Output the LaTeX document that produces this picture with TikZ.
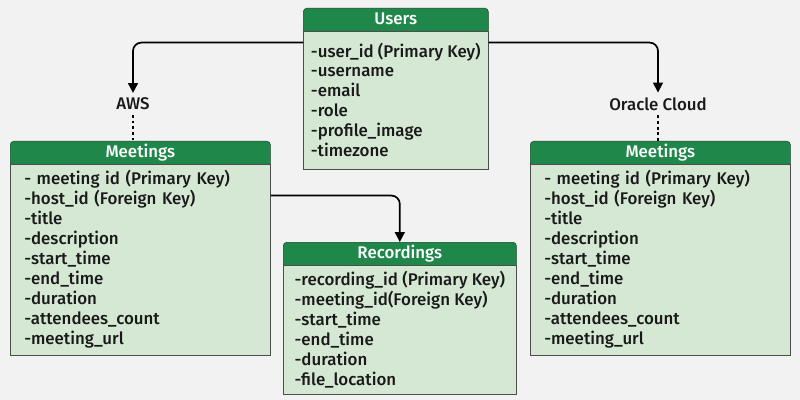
\documentclass[tikz,border=0pt]{standalone}
\usepackage{fontspec}
\setmainfont{Fira Sans Medium}
\usepackage{xcolor}
\usetikzlibrary{arrows.meta,positioning}
\definecolor{hdgreen}{HTML}{1F874A}
\definecolor{rowgreen}{HTML}{D5E8D4}
\definecolor{edgegray}{HTML}{4D4D4D}
\definecolor{bggray}{HTML}{F2F2F2}

\begin{document}
\begin{tikzpicture}[x=0.025cm, y=-0.025cm,
    every node/.style={font=\fontsize{12}{14.2}\selectfont, text=black!90},
    head/.style={fill=hdgreen, draw=hdgreen!55!black, rounded corners=2.5pt,
      text=white, minimum height=0.64cm, text height=9pt, text depth=4pt,
      inner sep=0pt, anchor=north west},
    rows/.style={fill=rowgreen, draw=edgegray, align=left, inner sep=0pt,
      below=-0.09cm of #1},
    link/.style={-{Triangle[length=7pt,width=7pt]}, line width=1.2pt, rounded corners=6pt},
    dotline/.style={line width=1.2pt, dash pattern=on 2pt off 2pt}]
  % background
  \fill[bggray] (0,0) rectangle (800,400);
  \useasboundingbox (0,0) rectangle (800,400);
  % users table
  \node[head, minimum width=4.625cm] (usershead) at (303,8) {Users};
  \node[rows=usershead, minimum width=4.625cm, minimum height=3.45cm]
    (usersrows) {-user\_id (Primary Key)\\-username\\-email\\-role\\-profile\_image\\-timezone};
  % meetings on aws
  \node[head, minimum width=6.5cm] (awshead) at (10,141) {Meetings};
  \node[rows=awshead, text width=5.8cm, inner xsep=0.35cm, minimum height=4.775cm]
    (awsrows) {- meeting id (Primary Key)\\-host\_id (Foreign Key)\\-title\\-description\\-start\_time\\-end\_time\\-duration\\-attendees\_count\\-meeting\_url};
  % meetings on oracle cloud
  \node[head, minimum width=6.5cm] (oraclehead) at (530,141) {Meetings};
  \node[rows=oraclehead, text width=5.8cm, inner xsep=0.35cm, minimum height=4.775cm]
    (oraclerows) {- meeting id (Primary Key)\\-host\_id (Foreign Key)\\-title\\-description\\-start\_time\\-end\_time\\-duration\\-attendees\_count\\-meeting\_url};
  % recordings table
  \node[head, minimum width=5.825cm] (rechead) at (283,242) {Recordings};
  \node[rows=rechead, minimum width=5.825cm, minimum height=3.225cm]
    (recrows) {-recording\_id (Primary Key)\\-meeting\_id(Foreign Key)\\-start\_time\\-end\_time\\-duration\\-file\_location};
  % cloud labels
  \node (aws) at (133,104) {AWS};
  \node (oracle) at (658,104) {Oracle Cloud};
  % links
  \draw[link] ([yshift=-0.3cm]usersrows.north west) -| (aws);
  \draw[link] ([yshift=-0.3cm]usersrows.north east) -| (oracle);
  \draw[dotline] (aws) -- (aws |- awshead.north);
  \draw[dotline] (oracle) -- (oracle |- oraclehead.north);
  \draw[link] ([yshift=-0.8cm]awsrows.north east) -| (rechead);
\end{tikzpicture}
\end{document}
